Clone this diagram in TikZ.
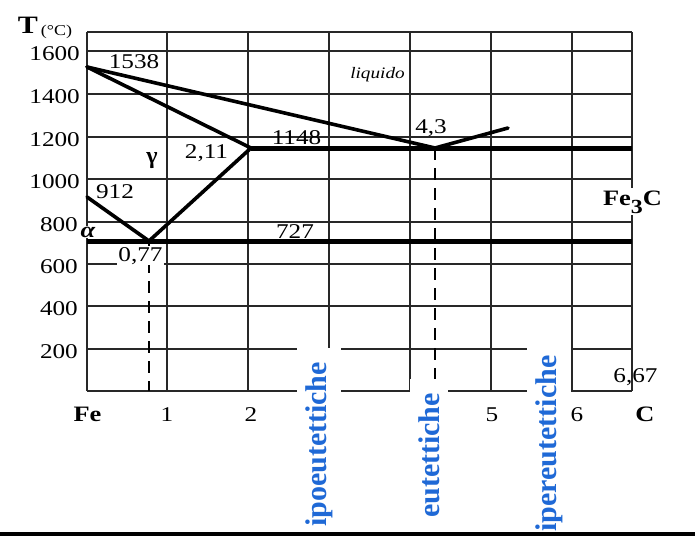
\documentclass[tikz,border=0pt]{standalone}
\usepackage{graphicx}
\usepackage{fontspec}
\setmainfont{Liberation Serif}
\newcommand\widetxt[1]{\scalebox{1.2}[1]{#1}}
\definecolor{lblblue}{RGB}{31,105,214}
\definecolor{gridcol}{RGB}{40,40,40}
\tikzset{
  gridline/.style={line width=1.4pt, draw=gridcol},
  phasecurve/.style={line width=3.6pt, line join=round, line cap=round},
  isoline/.style={line width=5pt},
  dashline/.style={line width=2.6pt, dash pattern=on 12pt off 8pt},
  num/.style={font=\fontsize{21}{21}\selectfont, inner sep=0pt, anchor=base},
  ticklab/.style={num, anchor=base east},
  boldlab/.style={font=\bfseries\fontsize{22}{22}\selectfont, inner sep=0pt, anchor=base},
  zone/.style={rotate=90, text=lblblue, font=\bfseries\fontsize{30}{30}\selectfont, fill=white, inner xsep=14pt, inner ysep=8pt},
}
\begin{document}
\begin{tikzpicture}[x=1pt,y=-1pt]
\useasboundingbox (0,0) rectangle (695,536);
\fill[white] (0,0) rectangle (695,536);
% grid
\foreach \gy in {32,51,94,137,179,222,264,306,349,391}
  \draw[gridline] (87,\gy) -- (632,\gy);
\foreach \gx in {87,167,248,329,410,491,572,632}
  \draw[gridline] (\gx,32) -- (\gx,391);
% key points
\coordinate (A) at (87,67);      % 1538
\coordinate (E) at (435,148);    % eutectic 4,3
\coordinate (Lend) at (508,128);
\coordinate (Cmax) at (251,148); % 2,11
\coordinate (G) at (87,197);     % 912
\coordinate (S) at (149,241);    % 0,77
\coordinate (R1148) at (632,148);
\coordinate (L727) at (87,241);
\coordinate (R727) at (632,241);
\coordinate (Sbot) at (149,391);
\coordinate (Ebot) at (435,381);
% isotherms
\draw[isoline] (Cmax) -- (R1148);
\draw[isoline] (L727) -- (R727);
% phase lines
\draw[phasecurve] (A) -- (E) -- (Lend);
\draw[phasecurve] (A) -- (Cmax);
\draw[phasecurve] (G) -- (S) -- (Cmax);
% dashed verticals
\draw[dashline] (S) -- (Sbot);
\draw[dashline] (E) -- (Ebot);
% zone labels
\node[zone] (ipo) at (319,444.5) {ipoeutettiche};
\node[zone] (eut) at (429,455.5) {eutettiche};
\node[zone] (iper) at (549,443.5) {ipereutettiche};
% axis titles and ticks
\node[font=\bfseries\fontsize{25}{25}\selectfont, inner sep=0pt, anchor=base] (tT) at (28,33) {\widetxt{T}};
\node[font=\fontsize{15}{15}\selectfont, inner sep=0pt, anchor=base] (tC) at (56.5,35) {\widetxt{(°C)}};
\node[ticklab] (y16) at (80,60) {\widetxt{1600}};
\node[ticklab] (y14) at (80,103) {\widetxt{1400}};
\node[ticklab] (y12) at (80,146) {\widetxt{1200}};
\node[ticklab] (y10) at (80,188) {\widetxt{1000}};
\node[ticklab] (y8) at (78,231) {\widetxt{800}};
\node[ticklab] (y6) at (78,273) {\widetxt{600}};
\node[ticklab] (y4) at (78,315) {\widetxt{400}};
\node[ticklab] (y2) at (78,358) {\widetxt{200}};
\node[boldlab] (xFe) at (87.5,421) {\widetxt{Fe}};
\node[num] (x1) at (167,421) {\widetxt{1}};
\node[num] (x2) at (251,421) {\widetxt{2}};
\node[num] (x5) at (492,421) {\widetxt{5}};
\node[num] (x6) at (577,421) {\widetxt{6}};
\node[boldlab] (xC) at (645,421) {\widetxt{C}};
% point labels
\node[num] (l1538) at (134,68) {\widetxt{1538}};
\node[font=\itshape\fontsize{16}{16}\selectfont, inner sep=0pt, anchor=base] (liq) at (377.5,78) {\widetxt{liquido}};
\node[num] (l43) at (431,133) {\widetxt{4,3}};
\node[num] (l1148) at (296.5,144) {\widetxt{1148}};
\node[num] (l211) at (206.5,158) {\widetxt{2,11}};
\node[font=\bfseries\fontsize{24}{24}\selectfont, inner sep=0pt, anchor=base] (gam) at (152,163) {γ};
\node[num] (l912) at (115,198) {\widetxt{912}};
\node[font=\bfseries\itshape\fontsize{22}{22}\selectfont, inner sep=1pt, fill=white, anchor=base] (alp) at (88,237) {\widetxt{α}};
\node[num] (l727) at (295,238) {\widetxt{727}};
\node[num, fill=white, inner sep=1pt] (l077) at (140.5,261) {\widetxt{0,77}};
\node[num] (l667) at (635.5,382) {\widetxt{6,67}};
\node[boldlab, fill=white, inner sep=2pt] (fe3c) at (632.5,205) {\widetxt{Fe\raisebox{-8pt}{\fontsize{20}{20}\selectfont 3}C}};
% bottom bar
\fill[black] (0,532) rectangle (695,536);
\end{tikzpicture}
\end{document}
